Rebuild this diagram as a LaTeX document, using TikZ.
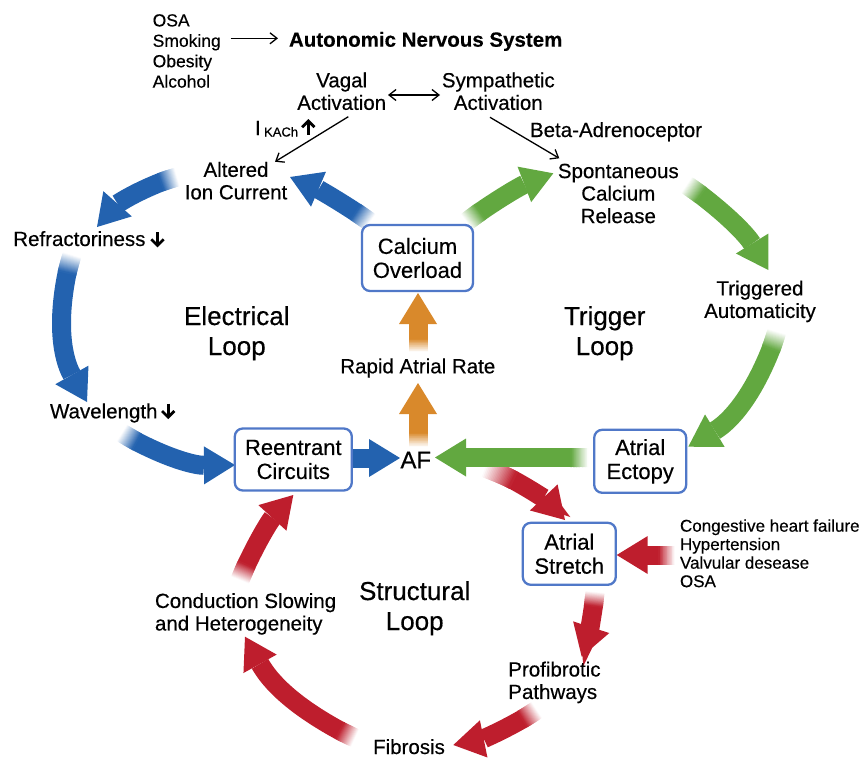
\documentclass[tikz,border=0pt]{standalone}
\usepackage{fontspec}
\setmainfont{Liberation Sans}[FakeBold=0.4]
\usetikzlibrary{arrows.meta,calc}
\definecolor{cblue}{RGB}{35,98,175}
\definecolor{cgreen}{RGB}{98,168,64}
\definecolor{corange}{RGB}{217,137,43}
\definecolor{cred}{RGB}{190,30,45}
\definecolor{cbox}{RGB}{80,120,200}
\newcommand\lblf{\fontsize{20.5}{22.5}\selectfont}
\newcommand\boxf{\fontsize{22}{24}\selectfont}
\newcommand\ttlf{\fontsize{26}{30}\selectfont}
\tikzset{fatline/.style={line width=19pt}}
% fat arrow with faded tail:
% #1 colour, #2 tail, #3 tip, #4 left/right, #5 bend angle, #6 fade fraction
\newcommand\fatarrow[6]{%
  \foreach \k in {0,...,21}{%
    \pgfmathsetmacro\pp{#6*\k/20}%
    \path (#2) to[bend #4=#5] coordinate[pos=\pp] (fd\k) (#3);
  }%
  \pgfmathsetmacro\bb{#5*(1-#6)}%
  \draw[fatline, #1, -{Triangle[length=31pt,width=38pt,line width=0pt]}] (fd20) to[bend #4=\bb] (#3);
  \foreach \k in {0,...,19}{%
    \pgfmathtruncatemacro\kn{\k+2}%
    \pgfmathsetmacro\pc{100*(\k+0.5)/20}%
    \draw[fatline, color=#1!\pc!white] (fd\k) -- (fd\kn);
  }%
}
% small bold vertical arrow drawn at x=#1 from y=#2 (tail) to y=#3 (tip)
\newcommand\boldvarrow[3]{%
  \draw[line width=2.8pt] (#1,#2) -- (#1,#3);
  \draw[line width=2.8pt, line join=miter] ($(#1,#3)+(-6.2,{6.2*sign(#2-#3)})$) -- (#1,#3) -- ($(#1,#3)+(6.2,{6.2*sign(#2-#3)})$);
}
\begin{document}
\begin{tikzpicture}[x=1pt,y=-1pt,
  every node/.style={inner sep=0pt, outer sep=0pt},
  lbl/.style={font=\lblf, align=center},
  ttl/.style={font=\ttlf, align=center},
  box/.style={draw=cbox, line width=2.3pt, rounded corners=8pt, fill=white, font=\boxf, align=center},
  thinarr/.style={line width=1.3pt, -{Straight Barb[length=7pt,width=11pt]}},
  dblarr/.style={line width=1.3pt, {Straight Barb[length=7pt,width=11pt]}-{Straight Barb[length=7pt,width=11pt]}}]
\useasboundingbox (0,0) rectangle (861,758);

% ---------- arrow end points ----------
\coordinate (e1t) at (370,222);   \coordinate (e1h) at (290,177);
\coordinate (e2t) at (177,177);   \coordinate (e2h) at (97,227);
\coordinate (e3t) at (72,255);    \coordinate (e3h) at (87,402);
\coordinate (e4t) at (122,433);   \coordinate (e4h) at (235,465);
\coordinate (e5t) at (351.7,458); \coordinate (e5h) at (400,458);
\coordinate (g1t) at (466.7,221.7); \coordinate (g1h) at (553.3,173.3);
\coordinate (g2t) at (686.7,185); \coordinate (g2h) at (768.3,270);
\coordinate (g3t) at (776.7,331.7); \coordinate (g3h) at (688.3,446.7);
\coordinate (g4t) at (588.3,457.5); \coordinate (g4h) at (435,457.5);
\coordinate (o1t) at (418,447);   \coordinate (o1h) at (418,383);
\coordinate (o2t) at (418,352);   \coordinate (o2h) at (418,293);
\coordinate (r1t) at (485,468);   \coordinate (r1h) at (565,520);
\coordinate (r2t) at (675,555);   \coordinate (r2h) at (616.7,555);
\coordinate (r3t) at (595,592);   \coordinate (r3h) at (581.7,656.7);
\coordinate (r4t) at (536.7,710); \coordinate (r4h) at (453.3,745);
\coordinate (r5t) at (355,738);   \coordinate (r5h) at (245,636.7);
\coordinate (r6t) at (240,580);   \coordinate (r6h) at (293.3,495);

% ---------- electrical loop (blue) ----------
\fatarrow{cblue}{e1t}{e1h}{right}{6}{0.17}
\fatarrow{cblue}{e2t}{e2h}{right}{16}{0.16}
\fatarrow{cblue}{e3t}{e3h}{right}{23}{0.11}
\fatarrow{cblue}{e4t}{e4h}{right}{16}{0.13}
\draw[fatline, cblue, -{Triangle[length=31pt,width=38pt,line width=0pt]}] (e5t) -- (e5h);

% ---------- structural loop (red) ----------
\fatarrow{cred}{r1t}{r1h}{left}{13}{0.3}
\fatarrow{cred}{r2t}{r2h}{left}{0}{0.26}
\fatarrow{cred}{r3t}{r3h}{left}{6}{0.2}
\fatarrow{cred}{r4t}{r4h}{left}{11}{0.17}
\fatarrow{cred}{r5t}{r5h}{left}{18}{0.1}
\fatarrow{cred}{r6t}{r6h}{left}{10}{0.15}

% ---------- trigger loop (green) ----------
\fatarrow{cgreen}{g1t}{g1h}{left}{8}{0.15}
\fatarrow{cgreen}{g2t}{g2h}{left}{12}{0.13}
\fatarrow{cgreen}{g3t}{g3h}{left}{21}{0.11}
\fatarrow{cgreen}{g4t}{g4h}{left}{0}{0.1}

% ---------- AF -> rapid rate -> calcium (orange) ----------
\fatarrow{corange}{o1t}{o1h}{left}{0}{0.2}
\fatarrow{corange}{o2t}{o2h}{left}{0}{0.2}

% ---------- boxes ----------
\node[box, minimum width=111pt, minimum height=66pt] (calc) at (417.5,258) {Calcium\\Overload};
\node[box, minimum width=117pt, minimum height=62pt] (reent) at (293.3,459.5) {Reentrant\\Circuits};
\node[box, minimum width=92pt, minimum height=63pt] (ecto) at (640.2,461.3) {Atrial\\Ectopy};
\node[box, minimum width=93pt, minimum height=62pt] (stre) at (569.3,553.8) {Atrial\\Stretch};

% ---------- labels ----------
\node[font=\fontsize{17.5}{20.4}\selectfont, align=left, anchor=west] (risk) at (152.7,51) {OSA\\Smoking\\Obesity\\Alcohol};
\node[font=\bfseries\fontsize{20.5}{23}\selectfont, anchor=base west] (ans) at (289,46.7) {Autonomic Nervous System};
\node[lbl] (vagal) at (341.7,91.25) {Vagal\\Activation};
\node[lbl] (symp) at (498.3,91.25) {Sympathetic\\Activation};
\node[lbl, anchor=base west] (ikach) at (255,135) {I\,\raisebox{-1.5pt}{\fontsize{13}{13}\selectfont KACh}};
\node[lbl, anchor=base west] (beta) at (530,137) {Beta-Adrenoceptor};
\node[lbl] (altered) at (236,180.75) {Altered\\Ion Current};
\node[lbl] (spont) at (618.3,193.5) {Spontaneous\\Calcium\\Release};
\node[lbl] (trig) at (760,301.4) {Triggered\\Automaticity};
\node[lbl, anchor=base west] (refr) at (13.3,246) {Refractoriness};
\node[lbl, anchor=base west] (wave) at (50,418.3) {Wavelength};
\node[ttl] (eloop) at (236.8,333.3) {Electrical\\Loop};
\node[ttl] (tloop) at (604.7,333.3) {Trigger\\Loop};
\node[ttl] (sloop) at (414.7,608.3) {Structural\\Loop};
\node[lbl, anchor=base] (rapid) at (417.8,373.3) {Rapid Atrial Rate};
\node[font=\fontsize{24}{24}\selectfont, anchor=base] (af) at (415.8,468.3) {AF};
\node[lbl, align=left, anchor=west] (cond) at (155,613.9) {Conduction Slowing\\and Heterogeneity};
\node[lbl, align=left, anchor=west] (prof) at (508.3,682.4) {Profibrotic\\Pathways};
\node[lbl, anchor=base] (fib) at (409,754) {Fibrosis};
\node[font=\fontsize{17}{18.5}\selectfont, align=left, anchor=west] (chf) at (680,553.3) {Congestive heart failure\\Hypertension\\Valvular desease\\OSA};

% ---------- small bold up/down arrows ----------
\boldvarrow{157.5}{232}{245.5}
\boldvarrow{168.2}{403.6}{417.2}
\boldvarrow{308.3}{134.6}{121}

% ---------- thin arrows ----------
\coordinate (t1s) at (230.7,38.3); \coordinate (t1e) at (278,38.3);
\coordinate (t2s) at (388,95);     \coordinate (t2e) at (440,95);
\coordinate (t3s) at (348.3,116.7); \coordinate (t3e) at (275,161.7);
\coordinate (t4s) at (490,117.3);  \coordinate (t4e) at (559.3,158.3);
\draw[thinarr] (t1s) -- (t1e);
\draw[dblarr] (t2s) -- (t2e);
\draw[thinarr] (t3s) -- (t3e);
\draw[thinarr] (t4s) -- (t4e);
\end{tikzpicture}
\end{document}
